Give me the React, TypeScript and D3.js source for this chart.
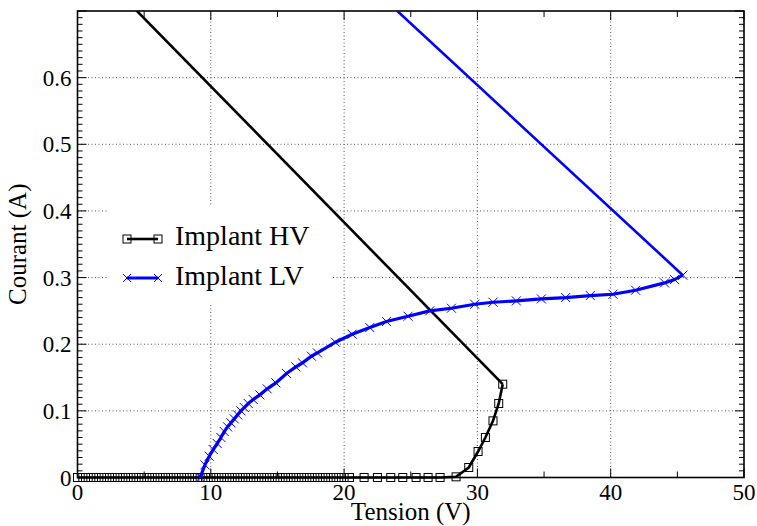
import React from "react";
import * as d3 from "d3";

// Implant HV measured points (tension V, courant A)
const hvTension = [
  0, 0.4, 0.8, 1.2, 1.6, 2, 2.4, 2.8, 3.2, 3.6, 4, 4.4, 4.8, 5.2, 5.6, 6, 6.4,
  6.8, 7.2, 7.6, 8, 8.4, 8.8, 9.2, 9.6, 10, 10.4, 10.8, 11.2, 11.6, 12, 12.4,
  12.8, 13.2, 13.6, 14, 14.4, 14.8, 15.2, 15.6, 16, 16.4, 16.8, 17.2, 17.6,
  18, 18.4, 18.8, 19.2, 19.6, 20, 20.4, 21.5, 22.5, 23.5, 24.4, 25.4, 26.3,
  27.2, 28.4, 29.35, 30.05, 30.6, 31.17, 31.6, 31.9,
];
const hvCourant = [
  0, 0, 0, 0, 0, 0, 0, 0, 0, 0, 0, 0, 0, 0, 0, 0, 0, 0, 0, 0, 0, 0, 0, 0, 0,
  0, 0, 0, 0, 0, 0, 0, 0, 0, 0, 0, 0, 0, 0, 0, 0, 0, 0, 0, 0, 0, 0, 0, 0, 0,
  0, 0, 0, 0, 0, 0, 0, 0, 0, 0.001, 0.015, 0.039, 0.06, 0.085, 0.111, 0.14,
];

// Implant LV measured points
const lvTension = [
  9.2, 9.56, 9.88, 10.18, 10.48, 10.76, 11.01, 11.26, 11.51, 11.76, 12.01,
  12.26, 12.51, 12.81, 13.18, 13.68, 14.23, 14.88, 15.68, 16.38, 16.88, 17.55,
  18.0, 19.35, 20.6, 21.93, 23.18, 24.8, 26.42, 28.05, 29.8, 31.17, 32.92,
  34.8, 36.62, 38.47, 40.17, 41.87, 44.04, 44.79, 45.41,
];
const lvCourant = [
  0, 0.019, 0.032, 0.042, 0.051, 0.06, 0.069, 0.076, 0.082, 0.088, 0.094,
  0.1, 0.105, 0.111, 0.117, 0.124, 0.133, 0.142, 0.156, 0.166, 0.172, 0.182,
  0.187, 0.203, 0.215, 0.225, 0.234, 0.242, 0.25, 0.254, 0.26, 0.263, 0.265,
  0.268, 0.27, 0.273, 0.275, 0.281, 0.292, 0.297, 0.3036,
];

// load lines (no markers)
const hvLoadTension = [31.9, 0];
const hvLoadCourant = [0.14, 0.791];
const lvLoadTension = [45.41, 0];
const lvLoadCourant = [0.3036, 1.144];

const xTicks = [0, 10, 20, 30, 40, 50];
const yTicks = [0, 0.1, 0.2, 0.3, 0.4, 0.5, 0.6];
const legendLabels = ["Implant HV", "Implant LV"];

const W = 757;
const H = 526;
const margin = { left: 77.5, right: 13, top: 11, bottom: 48.5 };
const FONT = "Liberation Serif, serif";

const zip = (xs: number[], ys: number[]) => xs.map((x, i) => [x, ys[i]] as [number, number]);

const App: React.FC = () => {
  const x = d3.scaleLinear().domain([0, 50]).range([margin.left, W - margin.right]);
  const y = d3.scaleLinear().domain([0, 0.7]).range([H - margin.bottom, margin.top]);
  const line = d3
    .line<[number, number]>()
    .x((d) => x(d[0]))
    .y((d) => y(d[1]));

  const hv = zip(hvTension, hvCourant);
  const lv = zip(lvTension, lvCourant);
  const hvLoad = zip(hvLoadTension, hvLoadCourant);
  const lvLoad = zip(lvLoadTension, lvLoadCourant);

  const x0 = x.range()[0];
  const x1 = x.range()[1];
  const y0 = y.range()[0];
  const y1 = y.range()[1];

  const yMinor = d3.range(0, 0.7001, 0.01);
  const xMinor = d3.range(0, 50.001, 5);

  const sq = 8;
  const cross = 4.5;

  const legend = { x: 108, y: 205, w: 224, h: 100 };
  const txt = { fontFamily: FONT };

  return (
    <svg
      width={W}
      height={H}
      style={{ position: "absolute", left: 0, top: 0, background: "#fff" }}
    >
      <defs>
        <clipPath id="plot">
          <rect x={x0} y={y1} width={x1 - x0} height={y0 - y1} />
        </clipPath>
      </defs>

      {/* grid */}
      <g stroke="#555" strokeWidth={1} strokeDasharray="1,2.5">
        {yTicks.slice(1).map((t) => (
          <line key={"gy" + t} x1={x0} x2={x1} y1={y(t)} y2={y(t)} />
        ))}
        {xTicks.slice(1, -1).map((t) => (
          <line key={"gx" + t} x1={x(t)} x2={x(t)} y1={y0} y2={y1} />
        ))}
      </g>

      {/* legend background hides grid */}
      <rect x={legend.x} y={legend.y} width={legend.w} height={legend.h} fill="#fff" />

      {/* ticks */}
      <g stroke="#000" strokeWidth={1}>
        {yMinor.map((t, i) => {
          const len = i % 10 === 0 ? 9 : 5;
          return (
            <g key={"ym" + i}>
              <line x1={x0} x2={x0 + len} y1={y(t)} y2={y(t)} />
              <line x1={x1} x2={x1 - len} y1={y(t)} y2={y(t)} />
            </g>
          );
        })}
        {xMinor.map((t, i) => {
          const len = i % 2 === 0 ? 9 : 6;
          return (
            <g key={"xm" + i}>
              <line x1={x(t)} x2={x(t)} y1={y0} y2={y0 - len} />
              <line x1={x(t)} x2={x(t)} y1={y1} y2={y1 + len} />
            </g>
          );
        })}
      </g>

      {/* frame */}
      <rect x={x0} y={y1} width={x1 - x0} height={y0 - y1} fill="none" stroke="#000" strokeWidth={1.6} />

      {/* series */}
      <g clipPath="url(#plot)" fill="none">
        <path d={line(hvLoad) || ""} stroke="#000" strokeWidth={2.6} />
        <path d={line(lvLoad) || ""} stroke="#0000ff" strokeWidth={2.6} />
      </g>
      <g fill="none">
        <path d={line(hv) || ""} stroke="#000" strokeWidth={2.6} />
        {hv.map((d, i) => (
          <rect
            key={"hs" + i}
            x={x(d[0]) - sq / 2}
            y={y(d[1]) - sq / 2}
            width={sq}
            height={sq}
            stroke="#000"
            strokeWidth={1}
          />
        ))}
        <path d={line(lv) || ""} stroke="#0000ff" strokeWidth={3.2} />
        {lv.map((d, i) => (
          <path
            key={"lx" + i}
            d={`M${x(d[0]) - cross},${y(d[1]) - cross}L${x(d[0]) + cross},${y(d[1]) + cross}M${x(d[0]) - cross},${y(d[1]) + cross}L${x(d[0]) + cross},${y(d[1]) - cross}`}
            stroke="#0000ff"
            strokeWidth={1}
          />
        ))}
      </g>

      {/* tick labels */}
      <g fontSize={23} fill="#000" style={txt}>
        {yTicks.map((t) => (
          <text key={"yl" + t} x={x0 - 6} y={y(t)} dy="0.35em" textAnchor="end" style={txt}>
            {d3.format("~g")(t)}
          </text>
        ))}
        {xTicks.map((t) => (
          <text key={"xl" + t} x={x(t)} y={500} textAnchor="middle" style={txt}>
            {t}
          </text>
        ))}
      </g>

      {/* axis titles */}
      <text x={(x0 + x1) / 2} y={520} fontSize={25} textAnchor="middle" style={txt}>
        Tension (V)
      </text>
      <text
        transform={`translate(26,${(y0 + y1) / 2}) rotate(-90)`}
        fontSize={25}
        textAnchor="middle"
        style={txt}
      >
        Courant (A)
      </text>

      {/* legend */}
      <g>
        <line x1={127} x2={158} y1={239} y2={239} stroke="#000" strokeWidth={2.6} />
        <rect x={127 - 4} y={239 - 4} width={8} height={8} fill="none" stroke="#000" />
        <rect x={158 - 4} y={239 - 4} width={8} height={8} fill="none" stroke="#000" />
        <text x={175} y={245} fontSize={28} style={txt}>
          {legendLabels[0]}
        </text>
        <line x1={127} x2={158} y1={278} y2={278} stroke="#0000ff" strokeWidth={3} />
        {[127, 158].map((cx) => (
          <path
            key={"lg" + cx}
            d={`M${cx - 4},${278 - 4}L${cx + 4},${278 + 4}M${cx - 4},${278 + 4}L${cx + 4},${278 - 4}`}
            stroke="#0000ff"
            strokeWidth={1}
          />
        ))}
        <text x={175} y={285} fontSize={28} style={txt}>
          {legendLabels[1]}
        </text>
      </g>
    </svg>
  );
};

export default App;
